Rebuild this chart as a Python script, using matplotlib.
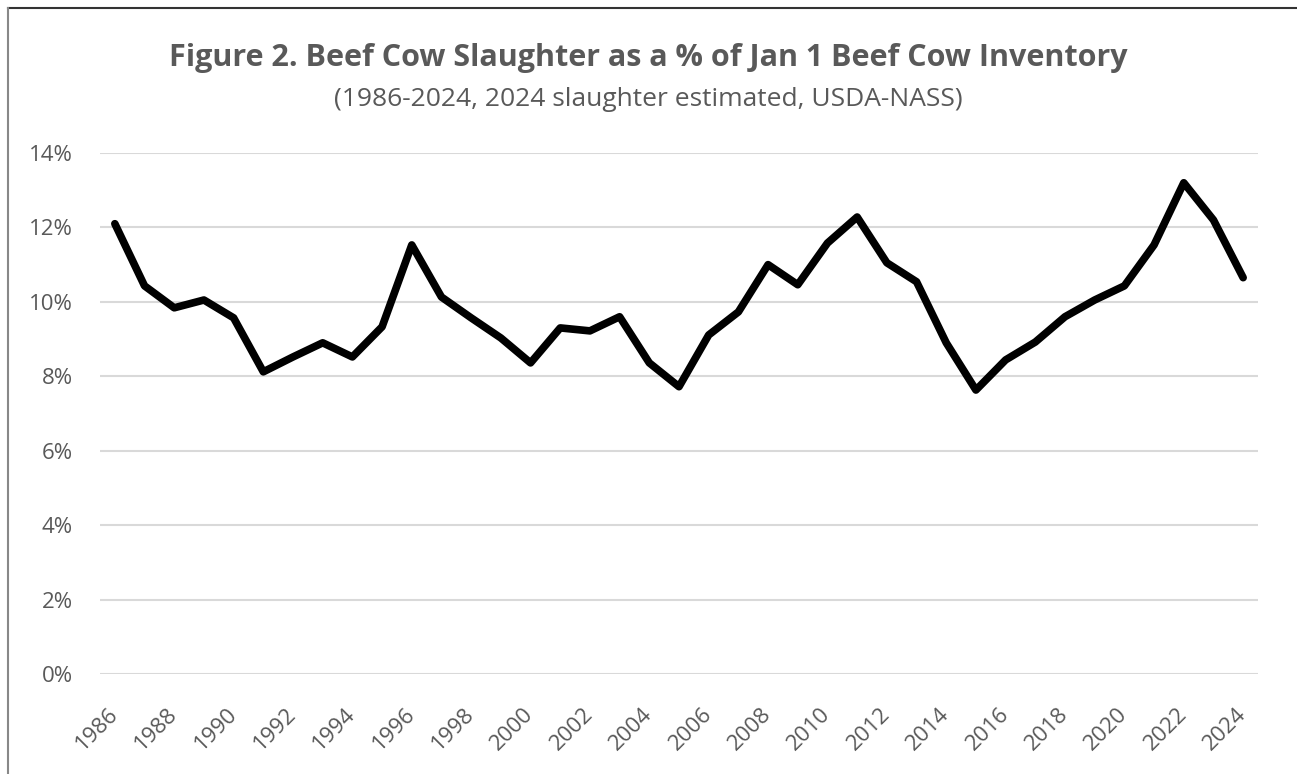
import numpy as np
import matplotlib
matplotlib.use("Agg")
from matplotlib import pyplot as plt
from matplotlib.lines import Line2D
from matplotlib.ticker import FuncFormatter

# データ
years = list(range(1986, 2025))
slaughter_pct = [12.1, 10.43, 9.84, 10.05, 9.57, 8.12, 8.52, 8.9, 8.52, 9.33,
                 11.53, 10.13, 9.57, 9.03, 8.36, 9.3, 9.22, 9.6, 8.36, 7.72,
                 9.11, 9.73, 11.0, 10.46, 11.58, 12.28, 11.05, 10.54, 8.9, 7.63,
                 8.44, 8.92, 9.6, 10.05, 10.43, 11.53, 13.2, 12.2, 10.65]
year_ticks = list(range(1986, 2025, 2))
pct_ticks = [0, 2, 4, 6, 8, 10, 12, 14]

title = "Figure 2. Beef Cow Slaughter as a % of Jan 1 Beef Cow Inventory"
subtitle = "(1986-2024, 2024 slaughter estimated, USDA-NASS)"

plt.rcParams['font.family'] = ['Open Sans', 'DejaVu Sans']
grey = "#595959"

fig = plt.figure(figsize=(12.97, 7.74), dpi=100)
ax = fig.add_axes([100 / 1297, 1 - 674 / 774, (1258 - 100) / 1297, (674 - 153) / 774])

ax.plot(years, slaughter_pct, color="black", linewidth=5.5,
        solid_joinstyle="round", solid_capstyle="round", zorder=3)

ax.set_xlim(1985.5, 2024.5)
ax.set_ylim(0, 14)
ax.set_yticks(pct_ticks)
ax.yaxis.set_major_formatter(FuncFormatter(lambda v, p: f"{v:.0f}%"))
ax.set_xticks(year_ticks)
ax.set_xticklabels([str(y) for y in year_ticks], rotation=45, ha="right",
                   va="center", rotation_mode="anchor")
ax.tick_params(axis="both", length=0, colors=grey, labelsize=16)
ax.tick_params(axis="x", pad=27)
ax.tick_params(axis="y", pad=19.5)
ax.grid(axis="y", color="#d9d9d9", linewidth=1.5)
ax.set_axisbelow(True)
for s in ax.spines.values():
    s.set_visible(False)

fig.text(0.5, 1 - 58 / 774, title, ha="center", va="center",
         fontsize=22, fontweight="bold", color=grey)
fig.text(0.5, 1 - 100 / 774, subtitle, ha="center", va="center",
         fontsize=19, color=grey)

# 枠線
fig.add_artist(Line2D([8 / 1297, 1], [1 - 8 / 774, 1 - 8 / 774],
                      transform=fig.transFigure, color="#333333", linewidth=1.5))
fig.add_artist(Line2D([8 / 1297, 8 / 1297], [0, 1 - 8 / 774],
                      transform=fig.transFigure, color="#888888", linewidth=1.5))

fig.savefig("out.png", dpi=100)
